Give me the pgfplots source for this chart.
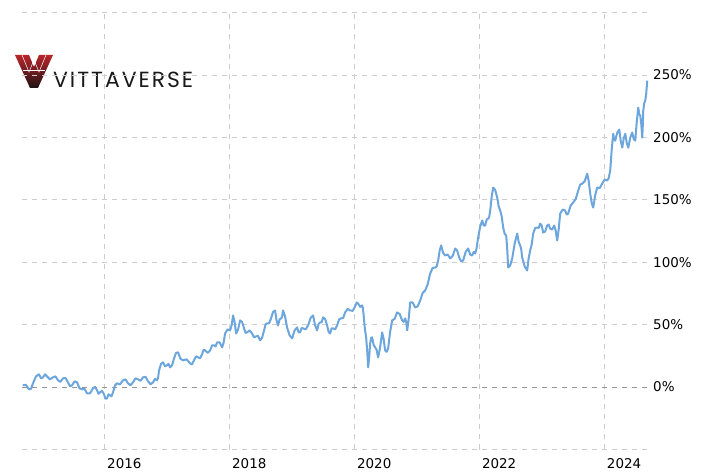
\documentclass[border=0pt]{standalone}
\usepackage{pgfplots}
\pgfplotsset{compat=1.18}
\usepackage{fontspec}
\setmainfont{DejaVu Sans}
\newfontfamily\logofont[LetterSpace=9]{Poppins}
\definecolor{lineblue}{RGB}{108,166,220}
\definecolor{gridgray}{RGB}{205,205,205}
\definecolor{zerogray}{RGB}{150,150,150}
\definecolor{logored}{RGB}{185,36,42}
\definecolor{logodark}{RGB}{30,20,20}
\begin{document}
\begin{tikzpicture}
\useasboundingbox (0,0) rectangle (703bp,476bp);
% logo
\shade[top color=logored, bottom color=logodark]
  (15bp,421bp) -- (29bp,421bp) -- (34bp,409bp) -- (39bp,421bp) -- (53bp,421bp)
  -- (38bp,388bp) -- (30bp,388bp) -- cycle;
\draw[white, line width=0.5bp] (22bp,421bp) -- (29bp,404bp) -- (36bp,421bp);
\draw[white, line width=0.5bp] (46bp,421bp) -- (39bp,404bp) -- (32bp,421bp);
\draw[white, line width=0.5bp] (23bp,406bp) -- (45bp,406bp);
\node[anchor=west, inner sep=0pt, text=black!90] at (53bp,396bp)
  {\fontsize{22}{25}\selectfont\logofont VITTAVERSE};
\begin{axis}[
  at={(22bp,26.5bp)}, anchor=south west,
  scale only axis, width=626bp, height=437bp,
  xmin=2014.679, xmax=2024.70,
  ymin=-50, ymax=300,
  axis line style={draw=none},
  tick style={draw=none},
  major tick length=0pt,
  xtick={2016,2018,2020,2022,2024},
  xticklabels={2016,2018,2020,2022,2024},
  ytick={-50,0,50,100,150,200,250,300},
  yticklabels={,0\%,50\%,100\%,150\%,200\%,250\%,},
  yticklabel pos=right,
  xmajorgrids, ymajorgrids,
  grid style={gridgray, line width=0.8bp, dash pattern=on 5bp off 5bp},
  ticklabel style={font=\fontsize{13.5}{15}\selectfont, text=black},
  xticklabel style={anchor=north west, inner sep=1bp, xshift=1.5bp, yshift=-8bp},
  yticklabel style={anchor=west, inner sep=1bp, xshift=4bp},
  /pgf/number format/assume math mode=true,
  clip=false,
]
\draw[zerogray, line width=0.8bp, dash pattern=on 5bp off 5bp] (axis cs:2014.679,0) -- (axis cs:2024.70,0);
\addplot[lineblue, line width=2bp, line join=round] coordinates {
(2014.690,1.4) (2014.740,1.8) (2014.791,-1.8) (2014.823,-1.4) (2014.855,3.0)
(2014.903,8.6) (2014.951,10.2) (2014.983,7.0) (2015.015,7.8) (2015.047,10.2)
(2015.079,8.6) (2015.127,6.2) (2015.175,7.8) (2015.215,8.6) (2015.255,5.4)
(2015.295,4.2) (2015.335,7.0) (2015.375,7.4) (2015.415,3.8) (2015.448,0.6)
(2015.480,1.4) (2015.520,4.6) (2015.560,3.8) (2015.600,-1.0) (2015.640,-1.8)
(2015.680,-1.4) (2015.720,-5.0) (2015.768,-5.0) (2015.816,-1.0) (2015.848,0.2)
(2015.880,-2.6) (2015.904,-5.4) (2015.928,-4.2) (2015.960,-3.0) (2015.992,-5.8)
(2016.016,-9.4) (2016.040,-9.0) (2016.064,-5.8) (2016.088,-6.6) (2016.112,-7.4)
(2016.136,-4.2) (2016.168,1.4) (2016.200,3.0) (2016.248,2.2) (2016.296,5.4)
(2016.336,6.2) (2016.376,3.0) (2016.416,1.4) (2016.456,3.8) (2016.496,7.0)
(2016.536,6.2) (2016.576,5.0) (2016.616,7.8) (2016.657,8.2) (2016.697,4.6)
(2016.737,2.2) (2016.777,3.8) (2016.809,6.6) (2016.841,5.4) (2016.857,7.4)
(2016.873,13.4) (2016.905,18.6) (2016.937,19.8) (2016.969,16.6) (2017.001,17.4)
(2017.025,18.6) (2017.049,15.8) (2017.081,17.4) (2017.113,23.0) (2017.145,27.4)
(2017.177,27.8) (2017.217,22.6) (2017.257,21.4) (2017.313,22.2) (2017.369,19.0)
(2017.401,18.2) (2017.433,21.4) (2017.465,24.6) (2017.497,23.8) (2017.529,23.0)
(2017.561,26.2) (2017.586,29.8) (2017.610,29.4) (2017.650,27.4) (2017.690,29.4)
(2017.722,33.4) (2017.754,33.4) (2017.778,32.6) (2017.802,35.8) (2017.842,35.8)
(2017.882,31.8) (2017.906,35.4) (2017.930,42.9) (2017.970,46.2) (2018.010,45.4)
(2018.034,49.4) (2018.058,57.4) (2018.082,52.2) (2018.106,42.9) (2018.138,46.2)
(2018.170,53.4) (2018.202,52.2) (2018.234,47.0) (2018.258,43.4) (2018.282,43.8)
(2018.322,45.4) (2018.362,42.9) (2018.394,39.8) (2018.426,40.6) (2018.458,41.0)
(2018.490,37.4) (2018.522,39.4) (2018.554,45.4) (2018.578,50.2) (2018.602,51.0)
(2018.634,51.0) (2018.666,55.0) (2018.698,60.2) (2018.730,61.4) (2018.754,53.4)
(2018.778,49.4) (2018.802,54.2) (2018.826,55.0) (2018.842,56.2) (2018.858,61.4)
(2018.890,56.6) (2018.922,47.8) (2018.963,41.4) (2019.003,39.0) (2019.043,45.4)
(2019.083,47.8) (2019.107,43.8) (2019.131,43.8) (2019.155,47.4) (2019.179,47.0)
(2019.219,46.2) (2019.259,49.4) (2019.299,55.4) (2019.339,57.4) (2019.371,49.4)
(2019.403,45.4) (2019.427,50.6) (2019.451,51.8) (2019.475,51.8) (2019.499,55.8)
(2019.531,54.6) (2019.563,49.4) (2019.587,44.2) (2019.611,42.9) (2019.635,47.0)
(2019.659,47.0) (2019.691,46.2) (2019.723,49.4) (2019.755,54.2) (2019.787,55.0)
(2019.820,55.4) (2019.852,59.8) (2019.892,62.6) (2019.932,61.4) (2019.972,61.0)
(2020.012,64.6) (2020.036,67.8) (2020.060,66.9) (2020.092,64.2) (2020.124,65.4)
(2020.136,63.4) (2020.148,57.4) (2020.168,46.6) (2020.188,39.8) (2020.204,29.8)
(2020.220,15.8) (2020.236,23.4) (2020.252,34.9) (2020.268,39.4) (2020.284,39.8)
(2020.308,33.8) (2020.332,31.8) (2020.356,29.8) (2020.380,23.8) (2020.412,31.8)
(2020.444,43.8) (2020.468,38.6) (2020.492,29.4) (2020.516,28.2) (2020.540,30.9)
(2020.572,44.2) (2020.604,53.4) (2020.644,54.6) (2020.684,59.8) (2020.724,58.6)
(2020.764,53.4) (2020.788,52.2) (2020.812,55.0) (2020.829,52.2) (2020.845,45.4)
(2020.869,54.6) (2020.893,67.8) (2020.933,67.8) (2020.973,63.8) (2021.013,64.6)
(2021.053,69.4) (2021.093,75.4) (2021.133,77.4) (2021.173,82.2) (2021.213,91.0)
(2021.253,95.4) (2021.293,95.8) (2021.317,96.6) (2021.341,101.4) (2021.365,109.4)
(2021.389,113.4) (2021.421,107.4) (2021.453,105.4) (2021.493,106.2) (2021.533,103.0)
(2021.573,105.0) (2021.613,111.0) (2021.645,109.4) (2021.677,103.8) (2021.709,100.6)
(2021.741,101.4) (2021.781,108.2) (2021.821,111.0) (2021.853,106.2) (2021.885,105.4)
(2021.909,108.2) (2021.933,107.0) (2021.957,111.4) (2021.981,119.8) (2022.014,128.6)
(2022.046,133.4) (2022.070,129.4) (2022.094,129.4) (2022.118,134.2) (2022.142,134.9)
(2022.158,136.2) (2022.174,141.4) (2022.198,152.6) (2022.222,159.8) (2022.254,157.8)
(2022.286,151.8) (2022.310,144.6) (2022.334,141.4) (2022.358,136.6) (2022.382,127.8)
(2022.406,122.6) (2022.430,121.4) (2022.446,110.6) (2022.462,95.8) (2022.494,97.4)
(2022.526,103.0) (2022.566,115.0) (2022.606,122.9) (2022.630,116.2) (2022.654,113.4)
(2022.670,110.6) (2022.686,103.8) (2022.726,96.6) (2022.766,93.4) (2022.790,103.4)
(2022.814,109.4) (2022.838,114.2) (2022.862,122.9) (2022.894,127.4) (2022.926,127.8)
(2022.950,127.4) (2022.974,130.9) (2022.998,129.4) (2023.022,123.8) (2023.054,124.6)
(2023.086,129.4) (2023.110,130.2) (2023.134,126.9) (2023.166,126.2) (2023.198,129.4)
(2023.222,125.4) (2023.246,117.4) (2023.270,126.2) (2023.294,138.9) (2023.334,142.2)
(2023.374,141.4) (2023.398,138.2) (2023.422,138.9) (2023.462,145.4) (2023.502,147.8)
(2023.543,150.6) (2023.583,157.4) (2023.615,162.2) (2023.647,162.9) (2023.687,164.9)
(2023.727,170.9) (2023.751,164.9) (2023.775,154.9) (2023.799,147.4) (2023.823,143.8)
(2023.855,153.8) (2023.887,159.8) (2023.927,159.4) (2023.967,162.9) (2024.007,166.2)
(2024.047,165.4) (2024.071,167.4) (2024.095,173.4) (2024.119,190.2) (2024.143,202.9)
(2024.159,198.2) (2024.175,197.4) (2024.208,203.8) (2024.240,206.2) (2024.264,197.0)
(2024.288,191.8) (2024.312,199.4) (2024.336,202.9) (2024.360,195.4) (2024.384,191.8)
(2024.416,199.8) (2024.448,203.8) (2024.472,198.6) (2024.496,197.4) (2024.520,212.6)
(2024.544,223.8) (2024.560,218.6) (2024.576,217.4) (2024.592,210.6) (2024.608,199.8)
(2024.616,208.6) (2024.624,221.4) (2024.640,227.4) (2024.656,229.4) (2024.672,235.4)
(2024.688,245.4)
};
\end{axis}
\end{tikzpicture}
\end{document}
